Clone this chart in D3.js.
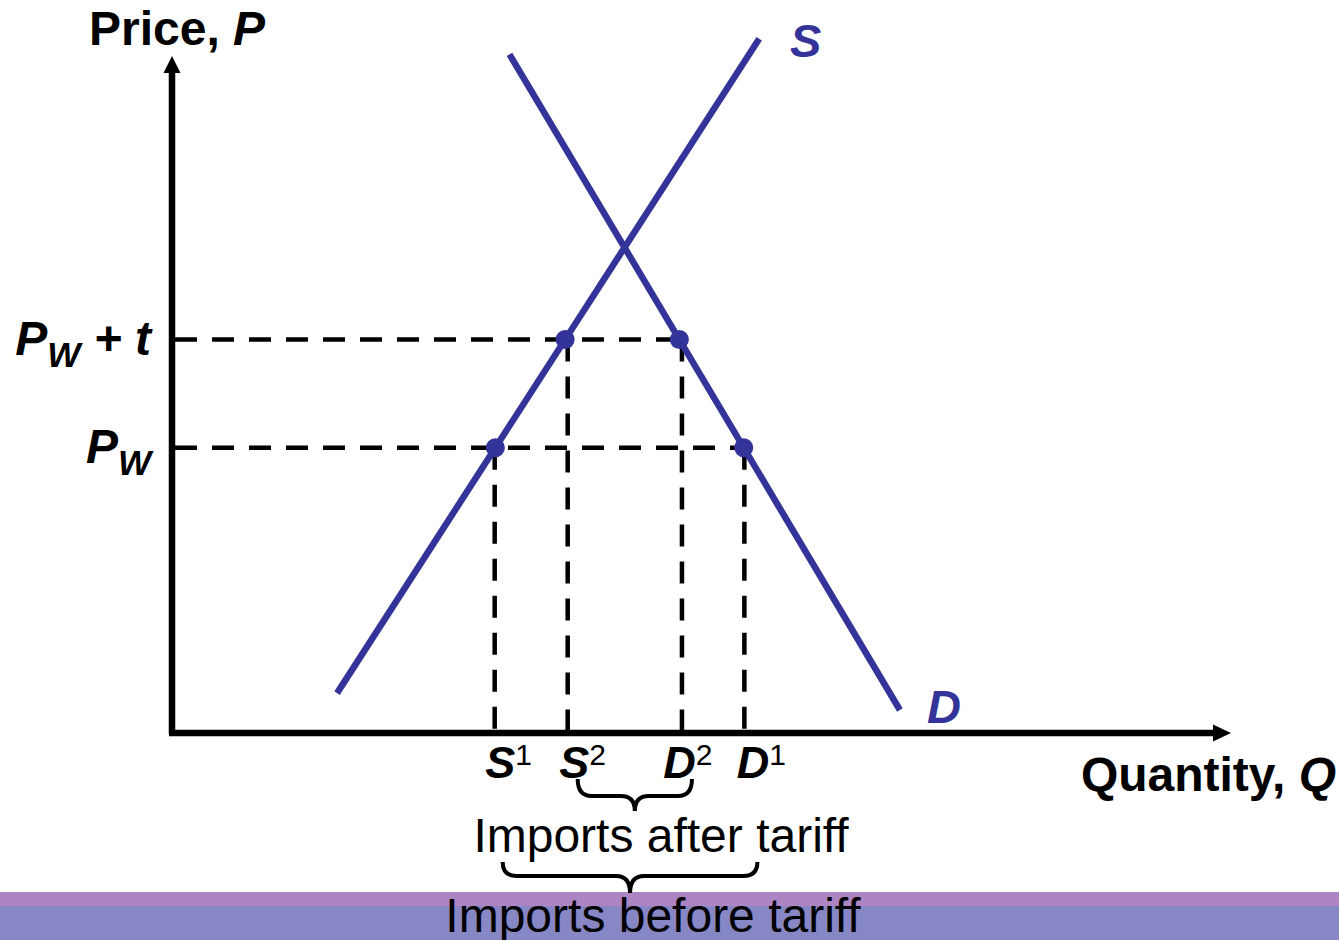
<!DOCTYPE html>
<html>
<head>
<meta charset="utf-8">
<script src="https://cdn.jsdelivr.net/npm/d3@7"></script>
<style>
  html, body { margin: 0; padding: 0; background: #fff; }
  svg { display: block; }
  text { font-family: "Liberation Sans", Arial, Helvetica, sans-serif; }
</style>
</head>
<body>
<div id="chart"></div>
<script>
// ---- data (chart units: quantity 0-100, price 0-100) ----
const supplyCurve = [[15.6, 5.9], [55.5, 102.7]];
const demandCurve = [[31.9, 100.4], [68.8, 3.4]];
const priceLevels = [
  { key: "PWt", value: 58.2, main: "P", sub: "W", tail: " + t", reachQ: 48.2 },
  { key: "PW",  value: 42.2, main: "P", sub: "W", tail: "",     reachQ: 54.1 }
];
const quantityNames = ["S", "S", "D", "D"];
const quantitySups  = ["1", "2", "2", "1"];
const quantityValues = [30.5, 37.4, 48.2, 54.1];
const quantityPrices = [42.2, 58.2, 58.2, 42.2];
const braceLabels = ["Imports after tariff", "Imports before tariff"];
const braceSpans = [[37.4, 48.2], [30.5, 54.1]];

// ---- layout ----
const W = 1339, H = 940;
const blue = "#333399";
const svg = d3.select("#chart").append("svg").attr("width", W).attr("height", H);

const x = d3.scaleLinear().domain([0, 100]).range([172, 1230]);
const y = d3.scaleLinear().domain([0, 100]).range([733, 57]);

// bottom bands
svg.append("rect").attr("x", 0).attr("y", 892).attr("width", W).attr("height", 14).attr("fill", "#ad85c3");
svg.append("rect").attr("x", 0).attr("y", 906).attr("width", W).attr("height", 34).attr("fill", "#8787c6");

// dashed guide lines
const dash = "22,15";
const guides = svg.append("g").attr("stroke", "#000").attr("stroke-width", 4.5).attr("stroke-dasharray", dash).attr("fill", "none");
priceLevels.forEach(p => {
  guides.append("line")
    .attr("x1", x(0) + 3).attr("x2", x(p.reachQ))
    .attr("y1", y(p.value)).attr("y2", y(p.value));
});
quantityValues.forEach((q, i) => {
  guides.append("line")
    .attr("x1", x(q)).attr("x2", x(q))
    .attr("y1", y(quantityPrices[i])).attr("y2", y(0));
});

// axes
const axes = svg.append("g");
axes.append("line").attr("x1", x(0)).attr("x2", x(0)).attr("y1", y(0) + 1).attr("y2", y(100) + 14)
  .attr("stroke", "#000").attr("stroke-width", 6.5);
axes.append("line").attr("x1", x(0) - 3).attr("x2", x(100) - 16).attr("y1", y(0)).attr("y2", y(0))
  .attr("stroke", "#000").attr("stroke-width", 6.5);
axes.append("path")
  .attr("d", `M${x(0)},${y(100) - 1} L${x(0) - 8.5},${y(100) + 16} L${x(0) + 8.5},${y(100) + 16} Z`)
  .attr("fill", "#000");
axes.append("path")
  .attr("d", `M${x(100) + 1},${y(0)} L${x(100) - 17},${y(0) - 8.5} L${x(100) - 17},${y(0) + 8.5} Z`)
  .attr("fill", "#000");

// supply & demand curves
const line = d3.line().x(d => x(d[0])).y(d => y(d[1]));
[supplyCurve, demandCurve].forEach(c => {
  svg.append("path").attr("d", line(c)).attr("stroke", blue).attr("stroke-width", 6.5)
    .attr("fill", "none").attr("stroke-linecap", "butt");
});

// dots
svg.append("g").selectAll("circle").data(quantityValues).join("circle")
  .attr("cx", (q, i) => {
    const c = i < 2 ? supplyCurve : demandCurve;
    const p = quantityPrices[i];
    const t = (p - c[0][1]) / (c[1][1] - c[0][1]);
    return x(c[0][0] + t * (c[1][0] - c[0][0]));
  })
  .attr("cy", (q, i) => y(quantityPrices[i]))
  .attr("r", 9.5).attr("fill", blue);

// curve labels
svg.append("text").attr("x", 790).attr("y", 57).attr("fill", blue)
  .attr("font-size", 47).attr("font-weight", "bold").attr("font-style", "italic").text("S");
svg.append("text").attr("x", 927).attr("y", 723).attr("fill", blue)
  .attr("font-size", 47).attr("font-weight", "bold").attr("font-style", "italic").text("D");

// axis titles
const yt = svg.append("text").attr("x", 89).attr("y", 45).attr("font-size", 48).attr("font-weight", "bold");
yt.append("tspan").text("Price, ");
yt.append("tspan").attr("font-style", "italic").text("P");
const xt = svg.append("text").attr("x", 1336).attr("y", 791).attr("text-anchor", "end")
  .attr("font-size", 48).attr("font-weight", "bold");
xt.append("tspan").text("Quantity, ");
xt.append("tspan").attr("font-style", "italic").text("Q");

// price labels
priceLevels.forEach(p => {
  const t = svg.append("text").attr("x", 151).attr("y", y(p.value) + 15).attr("text-anchor", "end")
    .attr("font-weight", "bold").attr("font-style", "italic");
  t.append("tspan").attr("font-size", 48).text(p.main);
  t.append("tspan").attr("font-size", 35).attr("dy", 12).text(p.sub);
  if (p.tail) t.append("tspan").attr("font-size", 48).attr("dy", -12).text(p.tail);
});

// quantity labels
const qOffsets = [14, 15, 6, 17];
quantityValues.forEach((q, i) => {
  const t = svg.append("text").attr("x", x(q) + qOffsets[i]).attr("y", 778).attr("text-anchor", "middle");
  t.append("tspan").attr("font-size", 45).attr("font-weight", "bold").attr("font-style", "italic").text(quantityNames[i]);
  t.append("tspan").attr("font-size", 30).attr("dy", -13).text(quantitySups[i]);
});

// braces
function brace(x1, x2, y0, y1, y2) {
  const xm = (x1 + x2) / 2, r = 14;
  return `M${x1},${y0} Q${x1},${y1} ${x1 + r},${y1} L${xm - r},${y1} Q${xm},${y1} ${xm},${y2}` +
         ` Q${xm},${y1} ${xm + r},${y1} L${x2 - r},${y1} Q${x2},${y1} ${x2},${y0}`;
}
svg.append("path").attr("d", brace(x(braceSpans[0][0]) + 10, x(braceSpans[0][1]) + 10, 779, 796, 811))
  .attr("stroke", "#000").attr("stroke-width", 4).attr("fill", "none");
svg.append("path").attr("d", brace(x(braceSpans[1][0]) + 8, x(braceSpans[1][1]) + 13, 862, 876, 893))
  .attr("stroke", "#000").attr("stroke-width", 4).attr("fill", "none");

svg.append("text").attr("x", 661).attr("y", 852).attr("text-anchor", "middle").attr("font-size", 48).text(braceLabels[0]);
svg.append("text").attr("x", 653).attr("y", 932).attr("text-anchor", "middle").attr("font-size", 48).text(braceLabels[1]);
</script>
</body>
</html>
